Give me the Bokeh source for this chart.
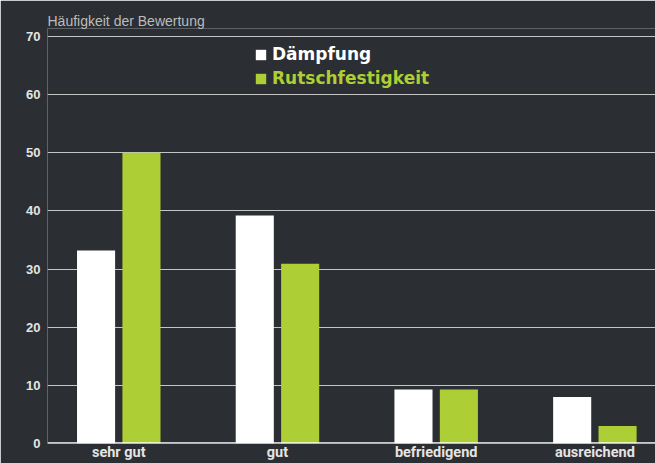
import numpy as np
from bokeh.plotting import figure
from bokeh.models import ColumnDataSource, Range1d, FixedTicker, Span, Legend, LegendItem
from bokeh.transform import dodge
from bokeh.embed import file_html
from bokeh.resources import INLINE

categories = ["sehr gut", "gut", "befriedigend", "ausreichend"]
daempfung = [33.2, 39.2, 9.3, 8.0]
rutschfestigkeit = [50.0, 30.9, 9.3, 3.0]
y_ticks = [0, 10, 20, 30, 40, 50, 60, 70]

BG = "#2b2e32"
GREEN = "#adcf35"

idx = np.arange(len(categories))
src = ColumnDataSource(dict(x=idx, d=daempfung, r=rutschfestigkeit))

p = figure(width=655, height=463, output_backend="svg", toolbar_location=None,
           x_range=Range1d(-0.449, 3.382), y_range=Range1d(0, 71.37),
           min_border_left=47, min_border_right=0, min_border_top=28, min_border_bottom=0)
p.background_fill_color = BG
p.border_fill_color = BG
p.outline_line_color = None

p.title.text = "Häufigkeit der Bewertung"
p.title.align = "left"
p.title.text_font = "Liberation Sans"
p.title.text_font_style = "normal"
p.title.text_font_size = "14px"
p.title.text_color = "#bcbcbc"
p.title.standoff = 0

r1 = p.vbar(x=dodge("x", -0.143, range=p.x_range), top="d", width=0.24, bottom=0,
            source=src, fill_color="white", line_color=None)
r2 = p.vbar(x=dodge("x", 0.143, range=p.x_range), top="r", width=0.24, bottom=0,
            source=src, fill_color=GREEN, line_color=None)

p.xgrid.grid_line_color = None
p.ygrid.grid_line_color = "#c4c4c4"
p.ygrid.grid_line_width = 1
p.ygrid.ticker = FixedTicker(ticks=y_ticks)

p.yaxis.ticker = FixedTicker(ticks=y_ticks)
p.yaxis.axis_line_color = None
p.yaxis.major_tick_line_color = None
p.yaxis.minor_tick_line_color = None
p.yaxis.major_tick_out = 0
p.yaxis.major_tick_in = 0
p.yaxis.major_label_standoff = 7
p.yaxis.major_label_text_font = "Liberation Sans"
p.yaxis.major_label_text_font_style = "bold"
p.yaxis.major_label_text_font_size = "13px"
p.yaxis.major_label_text_color = "#e4e4e4"

p.xaxis.ticker = FixedTicker(ticks=list(idx))
p.xaxis.major_label_overrides = {int(i): c for i, c in zip(idx, categories)}
p.xaxis.axis_line_color = None
p.xaxis.major_tick_line_color = None
p.xaxis.minor_tick_line_color = None
p.xaxis.major_tick_out = 0
p.xaxis.major_tick_in = 0
p.xaxis.major_label_standoff = 0
p.xaxis.major_label_text_font = "Roboto"
p.xaxis.major_label_text_font_style = "bold"
p.xaxis.major_label_text_font_size = "14.5px"
p.xaxis.major_label_text_color = "#e4e4e4"

p.add_layout(Span(location=0, dimension="width", line_color="white", line_width=2.5))

for label, rend, color, loc in [("Dämpfung", r1, "white", (207, 379)),
                                ("Rutschfestigkeit", r2, GREEN, (207, 355))]:
    lg = Legend(items=[LegendItem(label=label, renderers=[rend])], location=loc)
    lg.background_fill_alpha = 0
    lg.border_line_color = None
    lg.padding = 0
    lg.margin = 0
    lg.glyph_width = 13
    lg.glyph_height = 13
    lg.label_standoff = 5
    lg.label_height = 13
    lg.label_text_font = "DejaVu Sans"
    lg.label_text_font_style = "bold"
    lg.label_text_font_size = "17px"
    lg.label_text_color = color
    lg.label_text_baseline = "middle"
    p.add_layout(lg, "center")

open("out.html", "w").write(file_html(p, INLINE))
